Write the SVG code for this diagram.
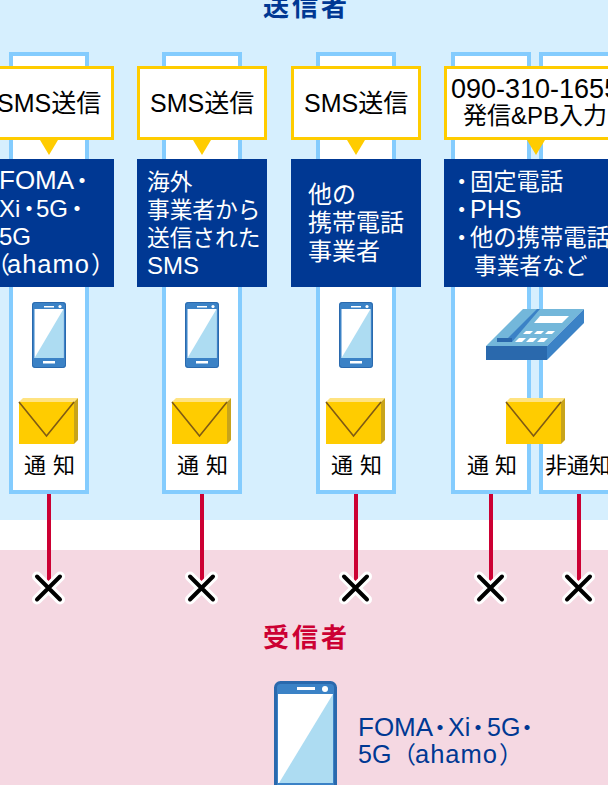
<svg xmlns="http://www.w3.org/2000/svg" width="608" height="785" viewBox="0 0 608 785">
<style>
text{font-family:"Liberation Sans","Noto Sans CJK JP",sans-serif}
.frame{fill:#fff;stroke:#84ccfe;stroke-width:4}
.call{fill:#fff;stroke:#fc0;stroke-width:3}
.tip{fill:#fc0}
.blue{fill:#003893}
.w{fill:#fff;font-size:24px}
.w23{fill:#fff;font-size:22.700px}
.k{fill:#000;font-size:25px}
.n{fill:#000;font-size:22px}
.line{stroke:#c03;stroke-width:4;fill:none}
.h{font-size:26px;font-weight:bold;letter-spacing:3px}
</style>
<defs>
<g id="phone">
<rect x="0" y="0" width="34" height="66" rx="3" fill="#3b82c6"/>
<rect x="0.500" y="0.500" width="33" height="65" rx="3" fill="none" stroke="#2a69ad"/>
<rect x="2.500" y="7" width="29" height="49" fill="#fff"/>
<polygon points="31.500,7 31.500,56 2.500,56" fill="#addcf2"/>
<rect x="12" y="4" width="10" height="1.500" fill="#fff"/>
<circle cx="28" cy="4.500" r="1.600" fill="#fff"/>
<rect x="11" y="59" width="12" height="2.500" fill="#fff"/>
</g>
<g id="env">
<polygon points="0,4 4,0 59,0 55,4" fill="#ffe381"/>
<polygon points="55,4 59,0 59,42 55,46" fill="#c8a41b"/>
<rect x="0" y="4" width="55" height="42" fill="#fc0"/>
<polyline points="0,4 27.500,38 55,4" fill="none" stroke="#7f5b14" stroke-width="1.600"/>
</g>
<g id="x">
<path d="M-11.500,-11.500L11.500,11.500M11.500,-11.500L-11.500,11.500" stroke="#fff" stroke-width="10" stroke-linecap="round"/>
<path d="M-11.500,-11.500L11.500,11.500M11.500,-11.500L-11.500,11.500" stroke="#000" stroke-width="4" stroke-linecap="round"/>
</g>
</defs>
<rect width="608" height="520" fill="#d6effe"/>
<rect y="520" width="608" height="30" fill="#fff"/>
<rect y="550" width="608" height="235" fill="#f5d8e2"/>
<text class="h" x="263" y="16" fill="#003893">送信者</text>
<g id="connectors">
<path class="line" d="M49,494V582"/><path class="line" d="M202,494V582"/><path class="line" d="M356,494V582"/><path class="line" d="M491,494V582"/><path class="line" d="M579,494V582"/>
</g>
<g id="col1">
<rect class="frame" x="11" y="54" width="76" height="438"/>
<rect class="call" x="-15" y="67.500" width="127.500" height="71"/>
<polygon class="tip" points="40,140 58,140 49,155"/>
<text class="k" x="-3" y="112">SMS送信</text>
<rect class="blue" x="-16" y="159" width="130" height="128"/>
<text class="w" x="-1" y="189"><tspan font-size="26">FOMA</tspan><tspan x="70">・</tspan></text>
<text class="w" x="-1" y="217">Xi<tspan x="17">・</tspan><tspan x="36">5G</tspan><tspan x="65">・</tspan></text>
<text class="w" x="-1" y="245">5G</text>
<text class="w" x="-14" y="273">（<tspan x="7" letter-spacing="1" font-size="25.500">ahamo</tspan><tspan x="91">）</tspan></text>
<use href="#phone" x="32" y="302"/><use href="#env" x="19" y="398"/>
<text class="n" x="24" y="473" letter-spacing="7">通知</text>
<use href="#x" x="48.500" y="588"/>
</g>
<g id="col2">
<rect class="frame" x="164" y="54" width="76" height="438"/>
<rect class="call" x="138.500" y="67.500" width="127" height="71"/>
<polygon class="tip" points="193,140 211,140 202,155"/>
<text class="k" x="150" y="112">SMS送信</text>
<rect class="blue" x="137" y="159" width="130" height="128"/>
<text class="w23" x="147" y="190">海外</text><text class="w23" x="147" y="218">事業者から</text><text class="w23" x="147" y="246">送信された</text><text class="w" x="147" y="274" font-size="24.500">SMS</text>
<use href="#phone" x="185" y="302"/><use href="#env" x="172" y="398"/>
<text class="n" x="177" y="473" letter-spacing="7">通知</text>
<use href="#x" x="201.500" y="588"/>
</g>
<g id="col3">
<rect class="frame" x="318" y="54" width="76" height="438"/>
<rect class="call" x="292.500" y="67.500" width="127" height="71"/>
<polygon class="tip" points="347,140 365,140 356,155"/>
<text class="k" x="304" y="112">SMS送信</text>
<rect class="blue" x="291" y="159" width="130" height="128"/>
<text class="w" x="308" y="203">他の</text><text class="w" x="308" y="231">携帯電話</text><text class="w" x="308" y="260">事業者</text>
<use href="#phone" x="339" y="302"/><use href="#env" x="326" y="398"/>
<text class="n" x="331" y="473" letter-spacing="7">通知</text>
<use href="#x" x="355.500" y="588"/>
</g>
<g id="col4">
<rect class="frame" x="453" y="54" width="76" height="438"/>
<rect class="frame" x="541" y="54" width="76" height="438"/>
<rect class="call" x="445.500" y="67.500" width="170" height="71"/>
<polygon class="tip" points="527,140 545,140 536,155"/>
<text class="k" x="451" y="98" style="font-size:27px">090-310-1655</text>
<text class="k" x="463" y="124" style="font-size:24px">発信&amp;PB入力</text>
<rect class="blue" x="444" y="159" width="170" height="128"/>
<text class="w" x="450" y="190" style="font-size:23.300px">・<tspan x="470">固定電話</tspan></text>
<text class="w" x="450" y="218" style="font-size:23.300px">・<tspan x="470" font-size="25">PHS</tspan></text>
<text class="w" x="450" y="246" style="font-size:23.300px">・<tspan x="470">他の携帯電話</tspan></text>
<text class="w23" x="474" y="274">事業者など</text>
<g id="telephone">
<polygon points="486,346 523,309 584,309 547,346" fill="#73b7da"/>
<polygon points="547,346 584,309 584,323 547,360" fill="#3b82c6"/>
<rect x="486" y="346" width="61" height="14" fill="#2a69ad"/>
<polygon points="508,338 537,309 540,309 512,342" fill="#3b82c6"/>
<rect x="497" y="338" width="15" height="4" fill="#2a69ad"/>
<polygon points="540,316 569,316 562,323 534,323" fill="#fff"/>
<polygon points="526,331 533,331 530,334 523,334" fill="#fff"/><polygon points="537,331 544,331 541,334 534,334" fill="#fff"/><polygon points="548,331 555,331 552,334 545,334" fill="#fff"/>
<polygon points="519,338 526,338 522,342 515,342" fill="#fff"/><polygon points="530,338 537,338 533,342 526,342" fill="#fff"/><polygon points="541,338 548,338 544,342 537,342" fill="#fff"/>
</g>
<use href="#env" x="506" y="398"/>
<text class="n" x="467" y="473" letter-spacing="6">通知</text>
<text class="n" x="545" y="473">非通知</text>
<use href="#x" x="490.500" y="588"/><use href="#x" x="578.500" y="588"/>
</g>
<g id="receiver">
<text class="h" x="263" y="647" fill="#c03">受信者</text>
<rect x="275.500" y="682.500" width="60" height="120" rx="5" fill="#3b82c6" stroke="#2a69ad" stroke-width="3"/>
<rect x="278" y="694" width="55" height="89" fill="#fff"/>
<polygon points="333,694 333,783 279,783" fill="#addcf2"/>
<rect x="297" y="687" width="18" height="3" fill="#fff"/>
<circle cx="325" cy="689" r="3" fill="#fff"/>
<text x="358" y="736" font-size="26" fill="#003893">FOMA<tspan x="428" font-size="24">・</tspan><tspan x="448" font-size="25">Xi</tspan><tspan x="466" font-size="24">・</tspan><tspan x="487" font-size="25">5G</tspan><tspan x="515" font-size="24">・</tspan></text>
<text x="358" y="763" font-size="25" fill="#003893">5G<tspan x="392" font-size="24">（</tspan><tspan x="415" letter-spacing="1" font-size="25.500">ahamo</tspan><tspan x="499" font-size="24">）</tspan></text>
</g>
</svg>
